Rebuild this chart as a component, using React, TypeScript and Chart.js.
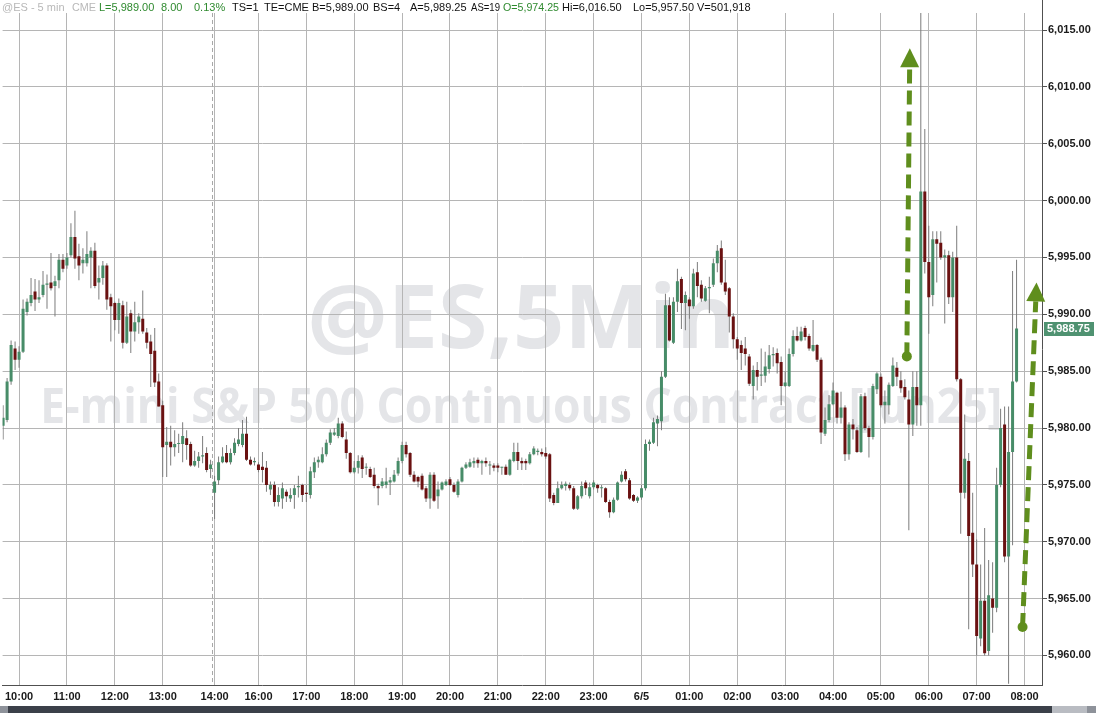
import React, { useEffect, useRef } from 'react';
import { Chart, registerables } from 'chart.js';

Chart.register(...registerables);

// ---- Data (5-minute bars, index 0 = first bar on the left) ----
const openP = [
  5980.2, 5980.7, 5984.1, 5987.0, 5986.0, 5986.7, 5990.2, 5991.0, 5992.0, 5991.3,
  5991.7, 5992.6, 5992.8, 5992.5, 5993.0, 5994.8, 5994.3, 5995.2, 5996.8, 5995.1,
  5994.5, 5994.5, 5995.0, 5995.6, 5992.8, 5993.2, 5994.3, 5991.5, 5991.0, 5989.5,
  5990.8, 5987.5, 5990.1, 5988.5, 5989.3, 5989.6, 5988.4, 5987.6, 5986.8, 5984.1,
  5982.0, 5978.5, 5978.8, 5978.3, 5978.6, 5978.6, 5979.1, 5978.6, 5976.7, 5977.1,
  5977.5, 5977.8, 5976.4, 5974.3, 5975.4, 5977.0, 5977.8, 5977.0, 5977.8, 5978.6,
  5978.5, 5979.5, 5977.2, 5977.0, 5976.8, 5976.6, 5976.5, 5974.6, 5975.0, 5973.5,
  5973.8, 5974.4, 5973.8, 5974.1, 5974.8, 5975.0, 5974.3, 5974.1, 5976.1, 5977.0,
  5977.0, 5977.7, 5978.7, 5979.4, 5979.3, 5980.4, 5979.0, 5977.8, 5976.1, 5976.5,
  5977.4, 5976.5, 5976.4, 5975.9, 5974.9, 5974.9, 5975.0, 5975.2, 5975.3, 5976.0,
  5977.1, 5978.5, 5977.8, 5975.9, 5975.7, 5975.8, 5974.7, 5973.8, 5975.9, 5974.0,
  5974.6, 5975.0, 5975.5, 5975.0, 5974.1, 5975.3, 5976.5, 5976.6, 5976.9, 5977.2,
  5976.9, 5977.1, 5976.7, 5976.7, 5976.7, 5976.5, 5976.6, 5975.9, 5977.1, 5977.9,
  5977.1, 5977.1, 5976.9, 5977.7, 5977.9, 5977.9, 5977.8, 5977.7, 5974.1, 5973.4,
  5974.7, 5974.9, 5975.0, 5974.7, 5972.9, 5974.0, 5975.2, 5974.0, 5974.8, 5975.0,
  5974.7, 5974.7, 5973.5, 5972.6, 5973.7, 5975.3, 5976.2, 5975.4, 5974.1, 5973.6,
  5973.9, 5974.7, 5978.6, 5978.7, 5980.4, 5980.6, 5984.5, 5990.8, 5987.5, 5991.1,
  5993.1, 5991.0, 5991.3, 5990.7, 5993.7, 5992.6, 5991.2, 5992.3, 5992.6, 5994.5,
  5995.8, 5992.8, 5992.3, 5989.8, 5987.8, 5987.3, 5987.0, 5986.3, 5983.7, 5985.1,
  5984.6, 5984.6, 5985.2, 5986.4, 5986.6, 5985.8, 5983.7, 5983.7, 5986.5, 5988.1,
  5987.7, 5988.8, 5988.1, 5986.8, 5987.3, 5986.0, 5979.5, 5980.7, 5982.1, 5983.1,
  5980.9, 5981.8, 5977.7, 5980.3, 5979.8, 5977.9, 5982.8, 5980.0, 5979.2, 5983.4,
  5984.5, 5982.0, 5982.0, 5983.7, 5985.3, 5984.2, 5983.6, 5982.5, 5980.3, 5983.6,
  5982.0, 6000.8, 5994.6, 5991.7, 5996.6, 5996.3, 5995.0, 5995.2, 5991.5, 5995.0,
  5984.3, 5974.3, 5977.1, 5970.8, 5968.0, 5961.5, 5964.8, 5960.4, 5965.0, 5964.2,
  5975.0, 5980.3, 5968.7, 5977.9, 5984.1,
];
const highP = [
  5982.0, 5984.4, 5987.7, 5987.6, 5987.2, 5991.3, 5991.4, 5993.2, 5993.1, 5993.0,
  5993.8, 5993.5, 5995.4, 5993.4, 5995.3, 5995.3, 5995.4, 5998.0, 5999.1, 5996.2,
  5995.8, 5997.3, 5995.9, 5996.3, 5994.3, 5994.7, 5994.5, 5991.8, 5991.1, 5991.4,
  5991.2, 5991.1, 5990.4, 5991.1, 5990.1, 5992.1, 5988.8, 5988.2, 5988.8, 5984.8,
  5982.4, 5980.1, 5980.2, 5979.8, 5979.5, 5980.5, 5979.8, 5978.8, 5978.0, 5977.9,
  5979.3, 5978.3, 5977.2, 5975.8, 5977.5, 5978.3, 5978.5, 5978.2, 5979.1, 5980.0,
  5980.7, 5981.0, 5977.5, 5977.4, 5977.0, 5977.9, 5977.1, 5975.3, 5975.3, 5974.8,
  5975.2, 5974.6, 5974.7, 5975.0, 5975.8, 5975.1, 5975.0, 5976.6, 5977.4, 5977.5,
  5978.3, 5979.0, 5979.9, 5980.0, 5980.9, 5980.6, 5979.7, 5977.9, 5977.1, 5977.6,
  5977.6, 5976.9, 5976.6, 5976.5, 5975.1, 5975.6, 5976.5, 5975.7, 5976.3, 5977.4,
  5978.8, 5978.8, 5977.9, 5976.2, 5975.8, 5976.0, 5974.9, 5976.1, 5976.1, 5975.3,
  5975.3, 5975.5, 5975.7, 5975.2, 5975.5, 5976.6, 5977.0, 5977.3, 5977.4, 5977.4,
  5977.2, 5977.4, 5977.1, 5976.9, 5976.9, 5976.6, 5976.8, 5977.3, 5978.7, 5978.7,
  5977.4, 5977.3, 5977.9, 5978.4, 5978.2, 5978.2, 5978.3, 5977.8, 5974.3, 5975.3,
  5975.3, 5975.3, 5975.2, 5974.9, 5974.1, 5975.3, 5975.4, 5975.2, 5975.4, 5975.1,
  5975.0, 5974.8, 5973.7, 5973.9, 5975.3, 5976.2, 5976.4, 5975.6, 5974.2, 5974.0,
  5975.0, 5979.0, 5979.0, 5980.9, 5981.1, 5985.0, 5991.8, 5991.5, 5991.5, 5994.0,
  5993.3, 5992.0, 5991.5, 5994.0, 5994.6, 5993.0, 5992.5, 5993.3, 5994.9, 5996.1,
  5996.5, 5994.8, 5992.4, 5990.1, 5988.0, 5987.7, 5988.0, 5986.5, 5985.5, 5985.8,
  5987.0, 5986.7, 5987.3, 5987.1, 5987.0, 5986.3, 5985.0, 5987.0, 5988.6, 5988.9,
  5988.9, 5989.0, 5988.3, 5989.5, 5987.4, 5986.2, 5981.8, 5982.9, 5984.0, 5983.2,
  5983.2, 5982.0, 5980.5, 5980.8, 5980.1, 5983.0, 5983.1, 5980.2, 5983.9, 5984.9,
  5984.8, 5983.3, 5984.0, 5986.2, 5985.8, 5985.0, 5984.3, 5983.3, 5985.0, 5985.0,
  6016.5, 6006.3, 5997.8, 5997.3, 5997.3, 5997.3, 5995.7, 5995.6, 5995.5, 5997.8,
  5984.4, 5981.2, 5977.8, 5974.3, 5970.2, 5968.0, 5971.2, 5968.4, 5968.2, 5976.5,
  5981.7, 5981.9, 5981.9, 5993.8, 5994.8,
];
const lowP = [
  5979.0, 5980.5, 5983.8, 5985.1, 5985.3, 5986.6, 5989.9, 5990.7, 5990.3, 5991.0,
  5991.5, 5990.5, 5992.1, 5989.8, 5992.3, 5993.7, 5994.0, 5995.0, 5994.0, 5993.0,
  5993.6, 5994.2, 5992.3, 5992.3, 5991.3, 5992.6, 5990.4, 5987.6, 5988.6, 5988.3,
  5987.0, 5987.4, 5986.6, 5987.6, 5988.3, 5988.3, 5987.0, 5983.6, 5983.6, 5981.9,
  5975.7, 5975.7, 5976.7, 5977.5, 5977.8, 5977.0, 5977.2, 5976.6, 5976.6, 5976.5,
  5976.9, 5976.1, 5975.6, 5972.0, 5975.0, 5976.9, 5976.9, 5976.8, 5977.6, 5978.4,
  5978.3, 5977.1, 5976.7, 5976.7, 5976.1, 5975.2, 5974.4, 5974.1, 5973.1, 5973.1,
  5972.9, 5973.5, 5973.5, 5972.9, 5973.9, 5973.5, 5973.5, 5973.8, 5975.6, 5976.5,
  5976.9, 5977.5, 5978.5, 5979.3, 5979.1, 5979.1, 5977.3, 5976.0, 5976.0, 5976.0,
  5975.6, 5975.9, 5975.6, 5974.7, 5973.2, 5974.7, 5974.7, 5974.1, 5975.2, 5975.8,
  5976.9, 5977.4, 5975.7, 5975.2, 5974.8, 5974.5, 5973.5, 5972.9, 5973.5, 5972.9,
  5974.5, 5974.9, 5974.9, 5974.3, 5973.9, 5975.2, 5976.4, 5976.5, 5976.5, 5976.5,
  5975.9, 5976.6, 5975.9, 5976.2, 5976.1, 5975.9, 5975.9, 5975.8, 5977.0, 5976.3,
  5976.3, 5976.3, 5976.8, 5977.6, 5977.6, 5977.5, 5977.3, 5973.5, 5973.2, 5973.4,
  5974.6, 5974.5, 5974.5, 5972.8, 5972.8, 5973.8, 5974.1, 5973.8, 5974.6, 5974.3,
  5973.9, 5973.4, 5972.1, 5972.5, 5973.6, 5975.2, 5975.3, 5973.7, 5973.5, 5973.4,
  5973.7, 5974.5, 5978.0, 5978.6, 5978.4, 5979.8, 5984.4, 5987.6, 5987.4, 5990.2,
  5988.7, 5988.6, 5989.6, 5990.5, 5991.5, 5991.1, 5991.1, 5990.1, 5992.4, 5993.7,
  5992.6, 5991.7, 5988.4, 5987.0, 5986.0, 5985.1, 5985.5, 5983.7, 5982.5, 5983.3,
  5983.7, 5984.0, 5984.8, 5985.4, 5984.8, 5982.0, 5983.6, 5983.6, 5986.3, 5987.6,
  5987.6, 5987.7, 5986.8, 5986.7, 5985.8, 5978.6, 5979.3, 5980.5, 5982.0, 5980.4,
  5980.4, 5977.1, 5977.2, 5979.0, 5977.8, 5977.8, 5979.8, 5977.4, 5979.0, 5983.0,
  5981.8, 5980.4, 5981.2, 5983.6, 5983.7, 5983.1, 5982.5, 5971.0, 5979.3, 5980.2,
  5980.2, 5993.6, 5988.3, 5990.7, 5992.8, 5994.8, 5989.2, 5990.9, 5990.2, 5984.1,
  5970.7, 5973.8, 5962.3, 5966.9, 5960.0, 5960.8, 5960.0, 5960.0, 5962.0, 5963.8,
  5974.8, 5968.2, 5957.5, 5969.7, 5984.0,
];
const closeP = [
  5980.9, 5984.1, 5987.3, 5986.0, 5986.7, 5990.5, 5991.1, 5991.7, 5991.3, 5991.5,
  5992.6, 5992.7, 5992.3, 5992.9, 5994.8, 5994.0, 5995.0, 5996.8, 5994.9, 5994.3,
  5994.8, 5995.3, 5995.6, 5992.5, 5993.2, 5994.3, 5991.3, 5990.7, 5989.5, 5991.0,
  5987.5, 5989.8, 5988.5, 5989.3, 5989.8, 5988.5, 5987.5, 5986.5, 5984.0, 5981.9,
  5978.3, 5978.8, 5978.3, 5978.6, 5978.6, 5979.3, 5978.5, 5976.7, 5977.1, 5977.5,
  5977.6, 5976.3, 5976.8, 5975.3, 5977.0, 5977.5, 5977.0, 5977.8, 5978.7, 5979.0,
  5979.5, 5977.2, 5976.8, 5977.1, 5976.3, 5976.3, 5975.0, 5975.0, 5973.5, 5974.1,
  5974.7, 5974.0, 5974.1, 5974.7, 5974.9, 5974.1, 5974.2, 5976.2, 5977.0, 5977.2,
  5977.7, 5978.7, 5979.6, 5979.6, 5980.4, 5979.2, 5977.8, 5976.1, 5976.5, 5977.1,
  5976.4, 5976.6, 5975.7, 5974.9, 5974.7, 5975.3, 5975.3, 5975.4, 5975.9, 5977.1,
  5978.5, 5977.7, 5975.9, 5975.3, 5975.3, 5974.6, 5973.8, 5975.9, 5973.6, 5974.6,
  5975.2, 5975.3, 5975.0, 5974.4, 5975.3, 5976.5, 5976.8, 5977.0, 5977.1, 5976.9,
  5977.1, 5976.9, 5976.7, 5976.5, 5976.5, 5976.5, 5975.9, 5977.2, 5977.9, 5977.1,
  5976.9, 5976.9, 5977.7, 5978.2, 5978.0, 5977.7, 5977.5, 5973.8, 5973.4, 5974.7,
  5975.0, 5975.1, 5974.7, 5972.9, 5974.0, 5974.9, 5974.7, 5974.8, 5975.2, 5974.7,
  5974.7, 5973.5, 5972.6, 5973.7, 5975.2, 5975.9, 5975.5, 5973.8, 5973.6, 5973.9,
  5974.7, 5978.6, 5978.8, 5980.5, 5980.8, 5984.5, 5990.8, 5987.7, 5991.1, 5992.9,
  5991.0, 5991.7, 5990.7, 5993.6, 5992.5, 5991.4, 5992.3, 5992.4, 5994.5, 5995.6,
  5992.8, 5992.0, 5989.8, 5987.8, 5987.0, 5986.6, 5986.5, 5983.9, 5985.1, 5984.5,
  5984.7, 5985.4, 5986.4, 5986.5, 5985.7, 5983.7, 5984.0, 5986.5, 5988.1, 5987.7,
  5988.5, 5988.0, 5987.0, 5987.3, 5986.0, 5979.6, 5980.7, 5982.1, 5983.3, 5980.9,
  5981.8, 5977.7, 5980.3, 5979.9, 5977.9, 5982.8, 5980.0, 5979.2, 5983.7, 5984.8,
  5982.0, 5982.3, 5983.8, 5985.5, 5984.5, 5983.5, 5982.7, 5980.3, 5983.6, 5982.0,
  6000.8, 5994.6, 5991.5, 5996.6, 5996.2, 5995.0, 5995.2, 5991.5, 5995.0, 5984.3,
  5974.3, 5977.3, 5970.5, 5968.0, 5961.7, 5964.8, 5960.2, 5965.3, 5964.2, 5975.0,
  5980.0, 5968.7, 5977.9, 5984.1, 5988.75,
];

// time axis: bar index of each hour tick and its label
const xTickIndex = [4, 16, 28, 40, 53, 64, 76, 88, 100, 112, 124, 136, 148, 160, 172, 184, 196, 208, 220, 232, 244, 256];
const xTickLabels = ['10:00', '11:00', '12:00', '13:00', '14:00', '16:00', '17:00', '18:00', '19:00', '20:00', '21:00',
  '22:00', '23:00', '6/5', '01:00', '02:00', '03:00', '04:00', '05:00', '06:00', '07:00', '08:00'];
const yTicks = [5960, 5965, 5970, 5975, 5980, 5985, 5990, 5995, 6000, 6005, 6010, 6015];
const sessionBreakIndex = [52.3];

// annotation arrows (bar index, price)
const arrowStartX = [226.5, 255.5];
const arrowStartY = [5986.3, 5962.5];
const arrowEndX = [227.25, 259.0];
const arrowEndY = [6013.4, 5992.8];

// header
const headerTexts = ['@ES - 5 min', 'CME', 'L=5,989.00', '8.00', '0.13%', 'TS=1', 'TE=CME', 'B=5,989.00', 'BS=4',
  'A=5,989.25', 'AS=19', 'O=5,974.25', 'Hi=6,016.50', 'Lo=5,957.50', 'V=501,918'];
const headerKinds = ['muted', 'muted', 'up', 'up', 'up', 'plain', 'plain', 'plain', 'plain',
  'plain', 'plain', 'up', 'plain', 'plain', 'plain'];
const headerX = [2, 72, 99, 161, 194, 232, 264, 312, 373, 410, 471, 503, 562, 633, 697];
const headerW = [66, 24, 59, 30, 35, 29, 45, 58, 34, 58, 29, 56, 68, 61, 62];

const watermark1 = '@ES,5Min';
const watermark2 = 'E-mini S&P 500 Continuous Contract [Jun25]';

const UP = '#478c68';
const DOWN = '#6a1111';
const WICK = '#7c7c7c';
const GRID = '#b5b5b5';
const AXIS = '#505050';
const ARROW = '#5f8e1d';
const FONT = '"Liberation Sans", Arial, sans-serif';

export default function App() {
  const ref = useRef<HTMLCanvasElement | null>(null);

  useEffect(() => {
    document.body.style.margin = '0';
    const canvas = ref.current;
    if (!canvas) return;
    const n = closeP.length;
    const idx = Array.from({ length: n }, (_, i) => i);
    const bodyColors = idx.map((i) => (closeP[i] >= openP[i] ? UP : DOWN));

    const overlay = {
      id: 'overlay',
      beforeDraw(chart: any) {
        const { ctx, chartArea } = chart;
        const cx = (chartArea.left + chartArea.right) / 2 - 1;
        ctx.save();
        ctx.fillStyle = '#e4e5e8';
        ctx.textAlign = 'center';
        ctx.textBaseline = 'alphabetic';
        const drawFit = (t: string, size: number, target: number, base: number) => {
          ctx.font = `bold ${size}px "Open Sans", sans-serif`;
          const w = ctx.measureText(t).width;
          ctx.save();
          ctx.translate(cx, base);
          ctx.scale(target / w, 1);
          ctx.fillText(t, 0, 0);
          ctx.restore();
        };
        drawFit(watermark1, 88, 428, 348);
        drawFit(watermark2, 48, 962, 423);
        ctx.restore();
      },
      beforeDatasetsDraw(chart: any) {
        const { ctx, chartArea, scales } = chart;
        ctx.save();
        ctx.strokeStyle = '#a8a8a8';
        ctx.lineWidth = 1;
        ctx.setLineDash([4, 3]);
        sessionBreakIndex.forEach((v) => {
          const x = Math.round(scales.x.getPixelForValue(v)) + 0.5;
          ctx.beginPath();
          ctx.moveTo(x, chartArea.top);
          ctx.lineTo(x, chartArea.bottom);
          ctx.stroke();
        });
        ctx.restore();
      },
      afterDraw(chart: any) {
        const { ctx, chartArea, scales, width } = chart;
        const xs = scales.x;
        const ys = scales.y;
        ctx.save();
        // arrows
        for (let i = 0; i < arrowStartX.length; i++) {
          const x0 = xs.getPixelForValue(arrowStartX[i]);
          const y0 = ys.getPixelForValue(arrowStartY[i]);
          const x1 = xs.getPixelForValue(arrowEndX[i]);
          const y1 = ys.getPixelForValue(arrowEndY[i]);
          const dx = x1 - x0;
          const dy = y1 - y0;
          const len = Math.hypot(dx, dy);
          const ux = dx / len;
          const uy = dy / len;
          const headL = 19;
          const headW = 9.5;
          const bx = x1 - ux * headL;
          const by = y1 - uy * headL;
          ctx.strokeStyle = ARROW;
          ctx.fillStyle = ARROW;
          ctx.lineWidth = 5;
          ctx.setLineDash([14, 7]);
          ctx.beginPath();
          ctx.moveTo(x0, y0);
          ctx.lineTo(bx, by);
          ctx.stroke();
          ctx.setLineDash([]);
          ctx.beginPath();
          ctx.arc(x0, y0, 5, 0, Math.PI * 2);
          ctx.fill();
          ctx.beginPath();
          ctx.moveTo(x1, y1);
          ctx.lineTo(bx - uy * headW, by + ux * headW);
          ctx.lineTo(bx + uy * headW, by - ux * headW);
          ctx.closePath();
          ctx.fill();
        }
        // axis line extension to top
        ctx.strokeStyle = AXIS;
        ctx.lineWidth = 1;
        ctx.beginPath();
        ctx.moveTo(Math.round(chartArea.right) + 0.5, 0);
        ctx.lineTo(Math.round(chartArea.right) + 0.5, chartArea.top);
        ctx.stroke();
        // last price tag
        const last = closeP[closeP.length - 1];
        const py = ys.getPixelForValue(last);
        ctx.fillStyle = '#4f9271';
        ctx.fillRect(chartArea.right + 2, Math.round(py) - 7, 50, 14);
        ctx.fillStyle = '#ffffff';
        ctx.font = `bold 11px ${FONT}`;
        ctx.textAlign = 'left';
        ctx.textBaseline = 'middle';
        ctx.fillText(last.toLocaleString('en-US', { minimumFractionDigits: 2, maximumFractionDigits: 2 }), chartArea.right + 5, Math.round(py));
        // header
        ctx.font = `11px ${FONT}`;
        ctx.textBaseline = 'alphabetic';
        headerTexts.forEach((t, i) => {
          const k = headerKinds[i];
          ctx.fillStyle = k === 'muted' ? '#b8b8b8' : k === 'up' ? '#2f8a2f' : '#111111';
          ctx.fillText(t, headerX[i], 11, headerW[i]);
        });
        // scrollbar
        ctx.fillStyle = '#3b4049';
        ctx.fillRect(0, 706, width, 7);
        ctx.fillStyle = '#8e929a';
        ctx.fillRect(0, 706, 8, 7);
        ctx.fillStyle = '#b9bcc2';
        ctx.fillRect(1052, 706, 35, 7);
        ctx.fillStyle = '#8e929a';
        ctx.fillRect(1087, 706, 9, 7);
        ctx.restore();
      },
    };

    const chart = new Chart(canvas, {
      type: 'bar',
      data: {
        datasets: [
          {
            label: 'range',
            data: idx.map((i) => ({ x: i, y: [lowP[i], highP[i]] })) as any,
            backgroundColor: WICK,
            barThickness: 1,
            grouped: false,
            inflateAmount: 0,
            borderWidth: 0,
            order: 2,
          } as any,
          {
            label: 'body',
            data: idx.map((i) => ({ x: i, y: [openP[i], closeP[i]] })) as any,
            backgroundColor: bodyColors,
            barThickness: 3,
            minBarLength: 1,
            grouped: false,
            inflateAmount: 0,
            borderWidth: 0,
            order: 1,
          } as any,
        ],
      },
      options: {
        animation: false,
        responsive: false,
        maintainAspectRatio: false,
        layout: { padding: { top: 13, left: 0, right: 0, bottom: 0 } },
        plugins: { legend: { display: false }, tooltip: { enabled: false } },
        scales: {
          x: {
            type: 'linear',
            position: 'bottom',
            min: -0.125,
            max: 260.375,
            offset: false,
            grid: { color: GRID, drawTicks: false, offset: false },
            border: { color: AXIS },
            afterBuildTicks: (s: any) => {
              s.ticks = xTickIndex.map((v) => ({ value: v }));
            },
            afterFit: (s: any) => {
              s.height = 28;
            },
            ticks: {
              autoSkip: false,
              maxRotation: 0,
              padding: 5,
              color: '#1a1a1a',
              font: { family: FONT, size: 11, weight: 'bold' },
              callback: (v: any) => {
                const j = xTickIndex.indexOf(Number(v));
                return j >= 0 ? xTickLabels[j] : '';
              },
            },
          } as any,
          y: {
            type: 'linear',
            position: 'right',
            min: 5957.4,
            max: 6016.5,
            grid: { color: GRID, drawTicks: true, tickLength: 5, tickColor: AXIS },
            border: { color: AXIS },
            afterBuildTicks: (s: any) => {
              s.ticks = yTicks.map((v) => ({ value: v }));
            },
            afterFit: (s: any) => {
              s.width = 54;
            },
            ticks: {
              padding: 1,
              color: '#1a1a1a',
              font: { family: FONT, size: 11, weight: 'bold' },
              callback: (v: any) =>
                Number(v).toLocaleString('en-US', { minimumFractionDigits: 2, maximumFractionDigits: 2 }),
            },
          } as any,
        },
      },
      plugins: [overlay],
    });
    return () => chart.destroy();
  }, []);

  return (
    <div style={{ width: 1096, height: 713, background: '#ffffff' }}>
      <canvas ref={ref} width={1096} height={713} style={{ display: 'block' }} />
    </div>
  );
}
